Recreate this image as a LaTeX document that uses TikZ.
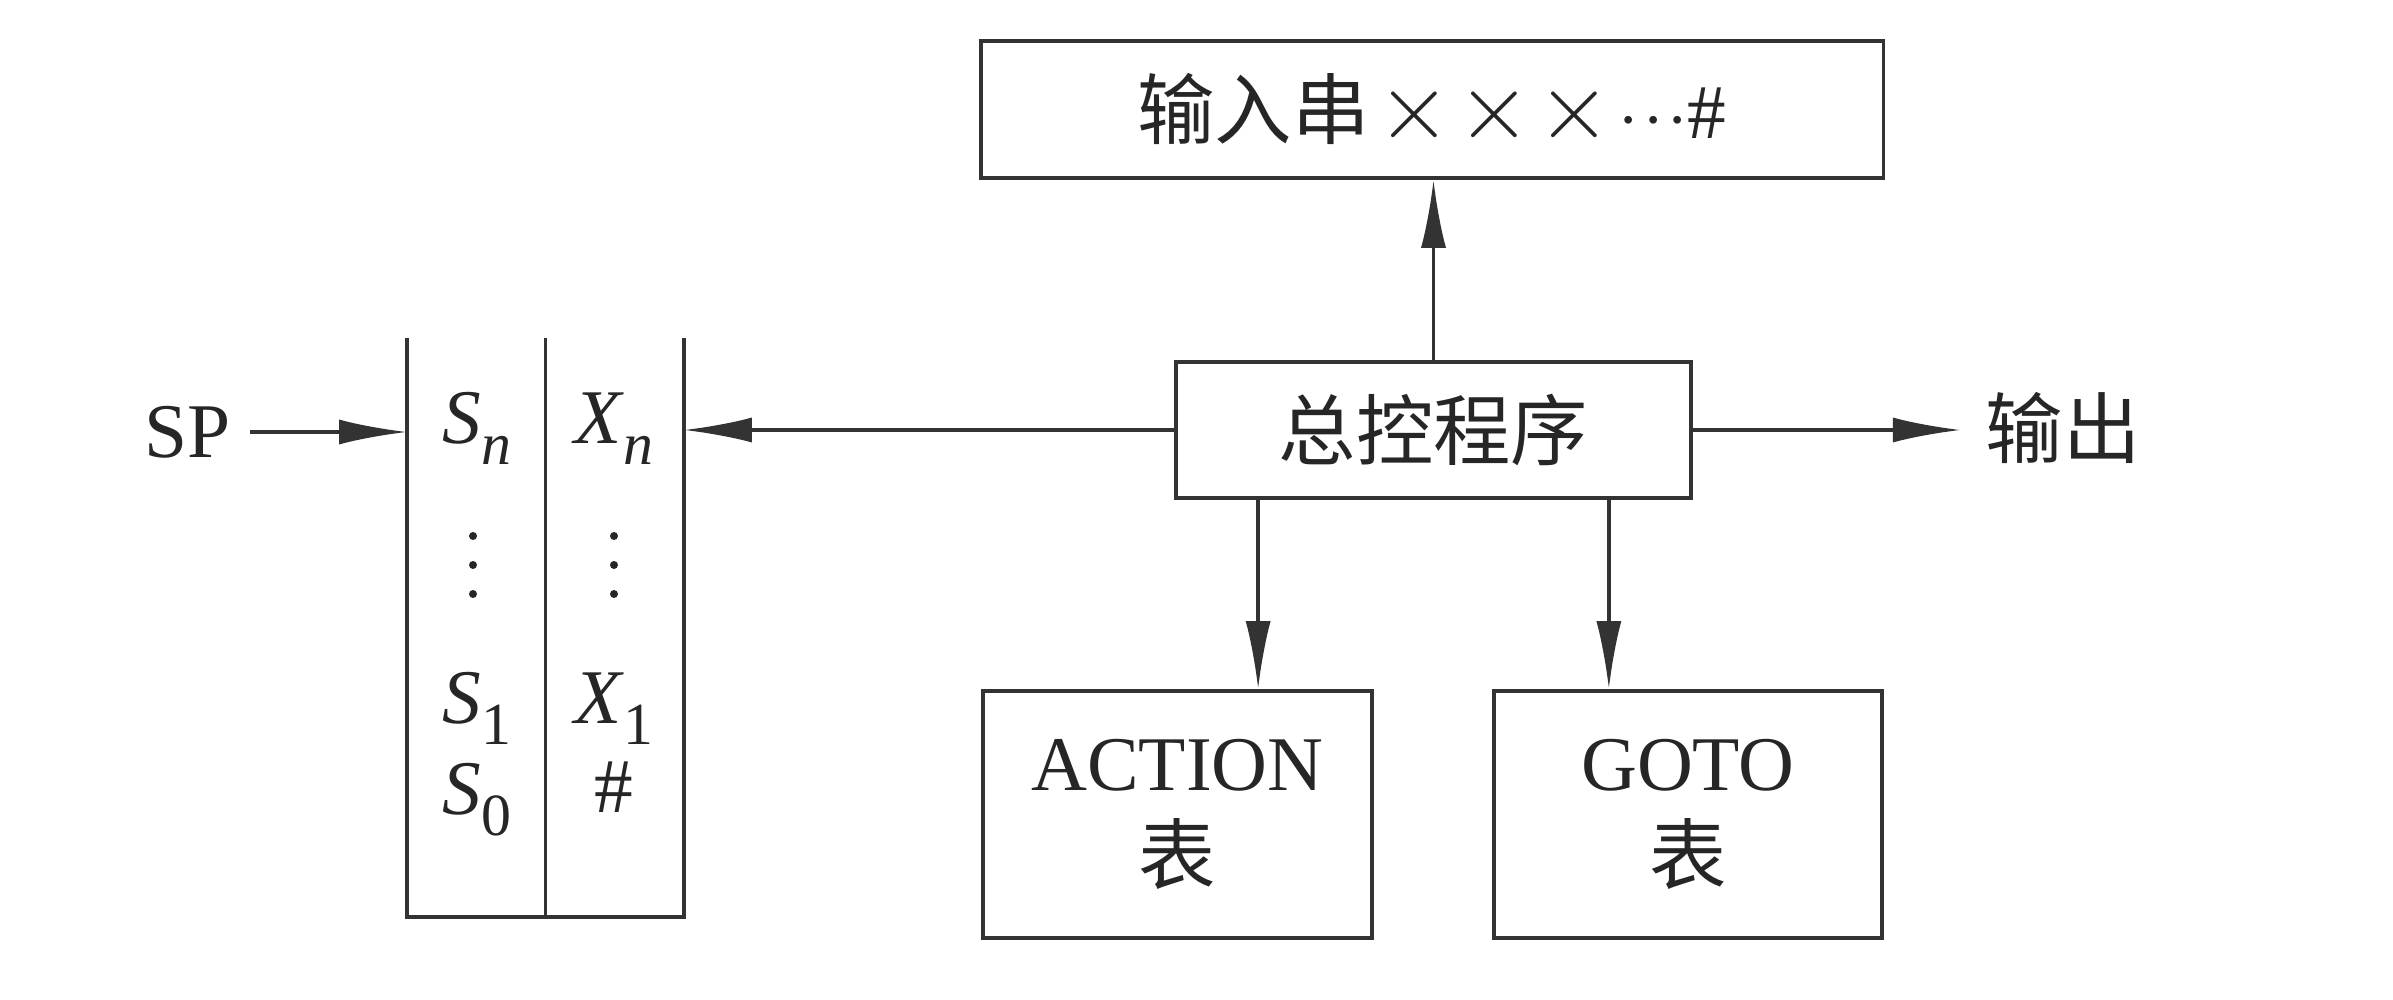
\documentclass[tikz,border=0pt]{standalone}
\usepackage{fontspec}
\setmainfont{Liberation Serif}
\newfontfamily\cjk{Noto Sans CJK SC}
\usetikzlibrary{arrows.meta}
\newcommand\stsub[1]{\raisebox{-6pt}{\fontsize{17}{17}\selectfont #1}}
\newcommand\bigx{\scalebox{1.3}{$\times$}}
\begin{document}
\begin{tikzpicture}[x=0.01cm,y=-0.01cm,
  line/.style={draw=black!80, line width=1pt},
  arr/.style={line, -{Latex[length=6.8mm,width=2.5mm]}},
  box/.style={line, rectangle, inner sep=0pt, text=black!85},
  lbl/.style={inner sep=0pt, text=black!85},
  font=\fontsize{22}{26.5}\selectfont]
\useasboundingbox (0,0) rectangle (2393,1000);
% boxes
\node[box, minimum width=9.02cm, minimum height=1.37cm] (inp) at (1432,109.5)
  {{\cjk 输入串}\hspace{0.08cm}\bigx\hspace{0.06cm}\bigx\hspace{0.06cm}\bigx\hspace{0.08cm}$\cdot$\hspace{0.04cm}$\cdot$\hspace{0.04cm}$\cdot$\#};
\node[box, minimum width=5.15cm, minimum height=1.36cm] (ctrl) at (1433.5,430) {\cjk 总控程序};
\node[box, minimum width=3.89cm, minimum height=2.47cm, align=center] (act) at (1177.5,814.5) {ACTION\\{\cjk 表}};
\node[box, minimum width=3.88cm, minimum height=2.47cm, align=center] (got) at (1688,814.5) {GOTO\\{\cjk 表}};
\node[lbl, anchor=west] (out) at (1985,428) {\cjk 输出};
% stack
\node[inner sep=0pt, minimum width=2.75cm, minimum height=5.77cm] (stk) at (545.5,627.5) {};
\draw[line] (stk.north west) -- (stk.south west) -- (stk.south east) -- (stk.north east);
\draw[line] (stk.north) -- (stk.south);
\node[lbl, anchor=base] (sn) at (477,443) {\textit{S}\stsub{\textit{n}}};
\node[lbl, anchor=base] (xn) at (614,443) {\textit{X}\stsub{\textit{n}}};
\node[lbl, anchor=base] (s1) at (477,723) {\textit{S}\stsub{1}};
\node[lbl, anchor=base] (x1) at (614,723) {\textit{X}\stsub{1}};
\node[lbl, anchor=base] (s0) at (477,814) {\textit{S}\stsub{0}};
\node[lbl, anchor=base] (hs) at (614,812) {\#};
\foreach \yy in {536,565,594} {
  \fill[black!85] (473,\yy) circle (4);
  \fill[black!85] (614,\yy) circle (4);
}
\node[lbl] (sp) at (188,432) {SP};
% connectors
\draw[arr, shorten <=0.18cm] (sp.east) -- (sp.east -| stk.west);
\draw[arr] (ctrl.west) -- (ctrl.west -| stk.east);
\draw[arr] (ctrl.north) -- (ctrl.north |- inp.south);
\draw[arr, shorten >=0.24cm] (ctrl.east) -- (ctrl.east -| out.west);
\coordinate (c1) at ([xshift=0.84cm]ctrl.south west);
\coordinate (c2) at ([xshift=-0.84cm]ctrl.south east);
\draw[arr] (c1) -- (c1 |- act.north);
\draw[arr] (c2) -- (c2 |- got.north);
\end{tikzpicture}
\end{document}
